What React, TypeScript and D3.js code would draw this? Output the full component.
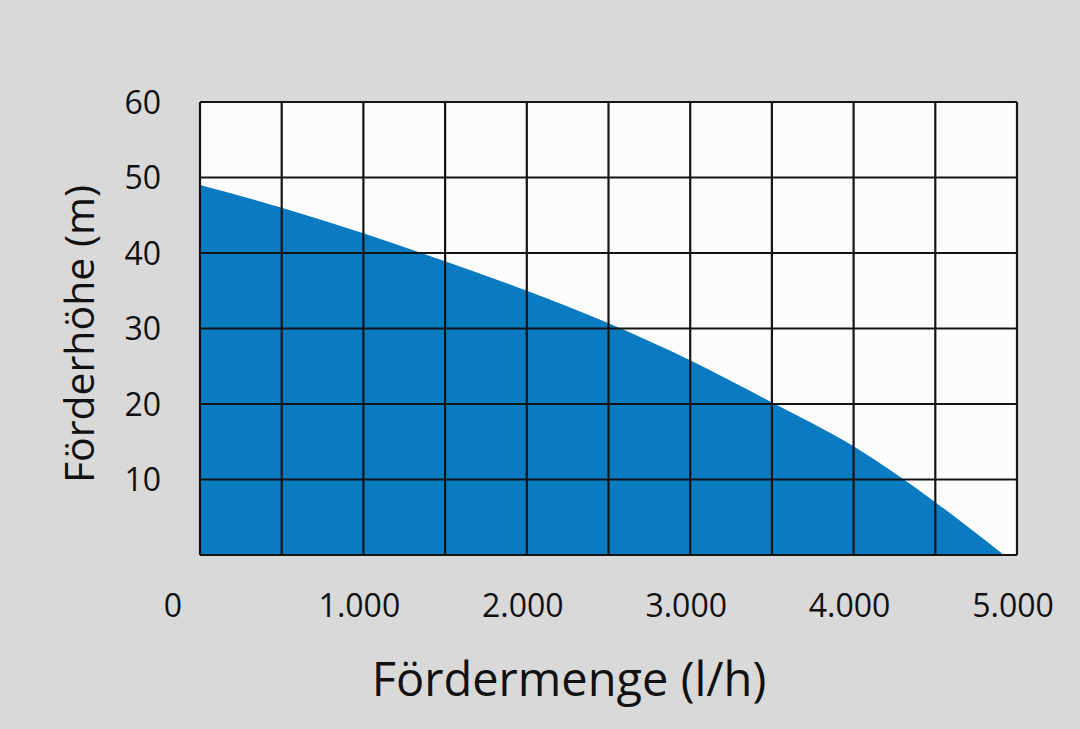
import { useEffect, useRef } from 'react';
import * as d3 from 'd3';

// Fördermenge (l/h) und Förderhöhe (m) der Kennlinie
const FLOW = [0, 500, 1000, 1500, 2000, 2500, 3000, 3500, 4000, 4500, 4920];
const HEAD = [49, 46, 42.6, 38.9, 35, 30.7, 25.8, 20.2, 14.4, 7, 0];

const X_TICKS = [0, 1000, 2000, 3000, 4000, 5000];
const X_GRID = [0, 500, 1000, 1500, 2000, 2500, 3000, 3500, 4000, 4500, 5000];
const Y_TICKS = [10, 20, 30, 40, 50, 60];
const Y_GRID = [0, 10, 20, 30, 40, 50, 60];

const WIDTH = 1080;
const HEIGHT = 729;
const PLOT = { left: 200, right: 1017, top: 102, bottom: 555 };
const FONT = '"Open Sans", "Noto Sans", sans-serif';

export default function App() {
  const svgRef = useRef<SVGSVGElement>(null);

  useEffect(() => {
    if (!svgRef.current) return;
    const svg = d3.select(svgRef.current);
    svg.selectAll('*').remove();

    const x = d3.scaleLinear().domain([0, 5000]).range([PLOT.left, PLOT.right]);
    const y = d3.scaleLinear().domain([0, 60]).range([PLOT.bottom, PLOT.top]);

    svg.append('rect').attr('width', WIDTH).attr('height', HEIGHT).attr('fill', '#d9d9d9');
    svg
      .append('rect')
      .attr('x', PLOT.left)
      .attr('y', PLOT.top)
      .attr('width', PLOT.right - PLOT.left)
      .attr('height', PLOT.bottom - PLOT.top)
      .attr('fill', '#fcfcfc');

    const points = FLOW.map((q, i) => ({ q, h: HEAD[i] }));
    const area = d3
      .area<{ q: number; h: number }>()
      .x((d) => x(d.q))
      .y0(y(0))
      .y1((d) => y(d.h))
      .curve(d3.curveMonotoneX);

    svg.append('path').attr('d', area(points)).attr('fill', '#0a7bc1');

    // Raster
    const grid = svg.append('g').attr('stroke', '#141414').attr('stroke-width', 2.2);
    grid
      .selectAll('line.v')
      .data(X_GRID)
      .join('line')
      .attr('class', 'v')
      .attr('x1', (d) => x(d))
      .attr('x2', (d) => x(d))
      .attr('y1', PLOT.top)
      .attr('y2', PLOT.bottom);
    grid
      .selectAll('line.h')
      .data(Y_GRID)
      .join('line')
      .attr('class', 'h')
      .attr('x1', PLOT.left)
      .attr('x2', PLOT.right)
      .attr('y1', (d) => y(d))
      .attr('y2', (d) => y(d));

    const fmt = (v: number) => (v === 0 ? '0' : d3.format(',')(v).replace(/,/g, '.'));

    svg
      .append('g')
      .selectAll('text')
      .data(X_TICKS)
      .join('text')
      .attr('x', (d) => (d === 0 ? x(d) - 27 : x(d) - 4))
      .attr('y', 617)
      .attr('text-anchor', 'middle')
      .attr('fill', '#111')
      .style('font-family', FONT)
      .style('font-size', '32px')
      .text(fmt);

    svg
      .append('g')
      .selectAll('text')
      .data(Y_TICKS)
      .join('text')
      .attr('x', 161)
      .attr('y', (d) => y(d))
      .attr('dy', '0.36em')
      .attr('text-anchor', 'end')
      .attr('fill', '#111')
      .style('font-family', FONT)
      .style('font-size', '32px')
      .text((d) => String(d));

    svg
      .append('text')
      .attr('x', 569)
      .attr('y', 696)
      .attr('text-anchor', 'middle')
      .attr('fill', '#111')
      .style('font-family', FONT)
      .style('font-size', '47px')
      .text('Fördermenge (l/h)');

    svg
      .append('text')
      .attr('transform', 'translate(94,334) rotate(-90)')
      .attr('text-anchor', 'middle')
      .attr('fill', '#111')
      .style('font-family', FONT)
      .style('font-size', '41px')
      .text('Förderhöhe (m)');
  }, []);

  return (
    <svg
      ref={svgRef}
      width={WIDTH}
      height={HEIGHT}
      viewBox={`0 0 ${WIDTH} ${HEIGHT}`}
      style={{ position: 'absolute', left: 0, top: 0 }}
    />
  );
}
